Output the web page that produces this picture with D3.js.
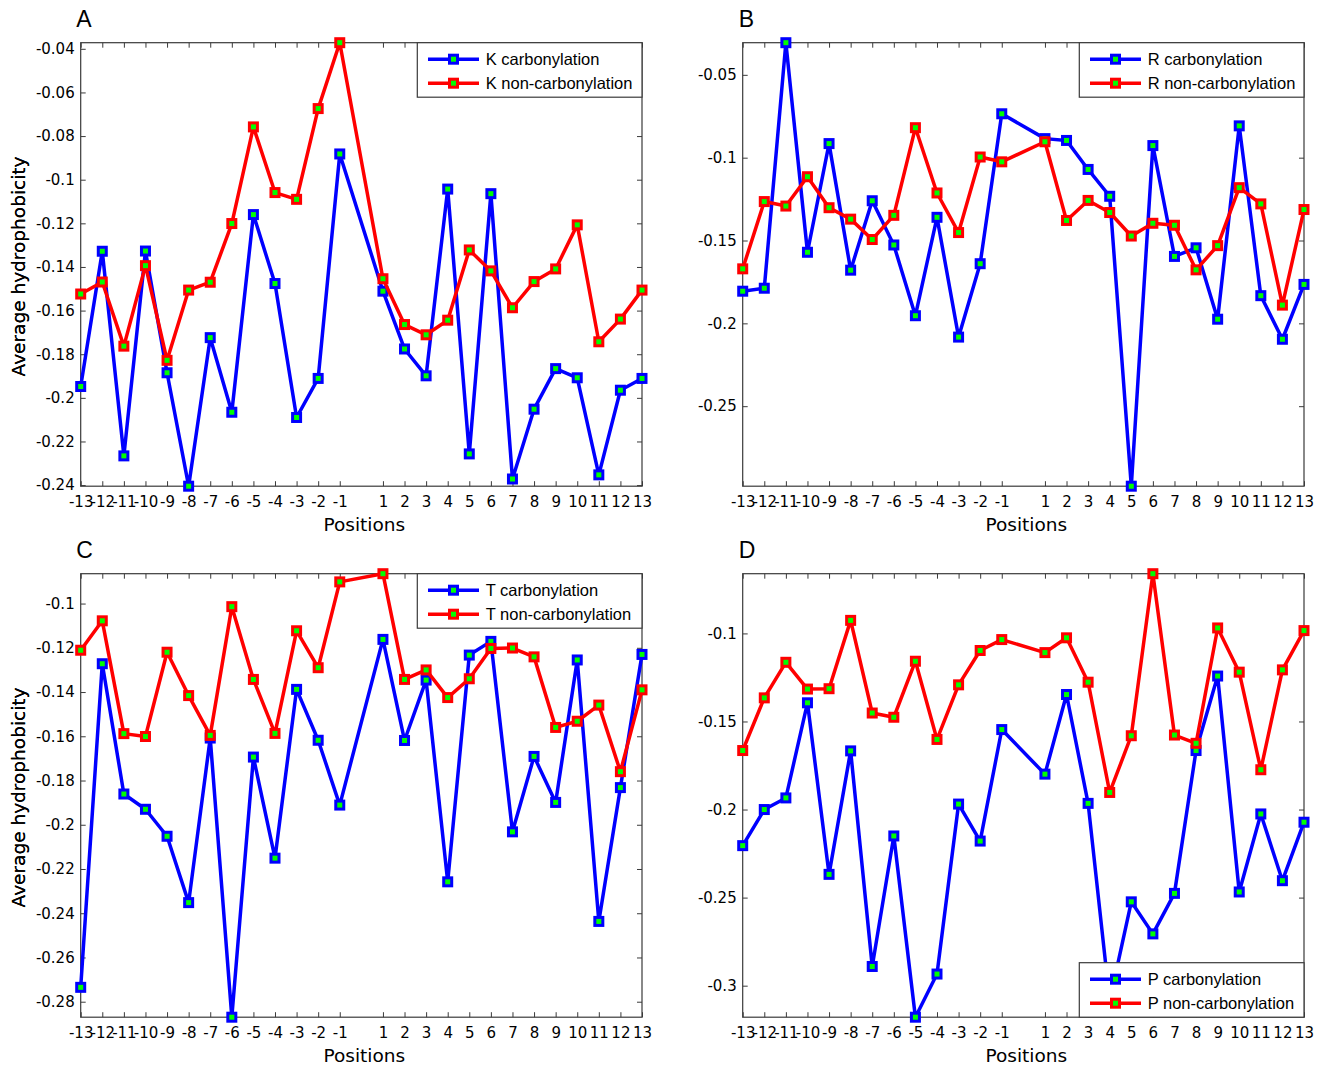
<!DOCTYPE html>
<html>
<head>
<meta charset="utf-8">
<script src="https://cdn.jsdelivr.net/npm/d3@7"></script>
<style>
  html, body { margin: 0; padding: 0; background: #fff; }
  svg { display: block; }
</style>
</head>
<body>
<svg id="chart" width="1325" height="1067"></svg>
<script>
// ---------- DATA ----------
const positions = [-13,-12,-11,-10,-9,-8,-7,-6,-5,-4,-3,-2,-1,1,2,3,4,5,6,7,8,9,10,11,12,13];

const kCarb = [-0.1948,-0.1328,-0.2266,-0.1327,-0.1885,-0.2405,-0.1724,-0.2066,-0.1160,-0.1476,-0.2090,-0.1911,-0.0882,-0.1511,-0.1776,-0.1899,-0.1043,-0.2257,-0.1064,-0.2372,-0.2052,-0.1866,-0.1908,-0.2353,-0.1965,-0.1911];
const kNon  = [-0.1524,-0.1469,-0.1763,-0.1394,-0.1828,-0.1506,-0.1470,-0.1201,-0.0758,-0.1059,-0.1090,-0.0674,-0.0372,-0.1454,-0.1664,-0.1711,-0.1644,-0.1322,-0.1418,-0.1587,-0.1467,-0.1409,-0.1207,-0.1743,-0.1639,-0.1506];

const rCarb = [-0.1806,-0.1788,-0.0306,-0.1571,-0.0915,-0.1679,-0.1260,-0.1527,-0.1954,-0.1360,-0.2083,-0.1640,-0.0735,-0.0885,-0.0896,-0.1071,-0.1233,-0.2983,-0.0927,-0.1596,-0.1544,-0.1975,-0.0808,-0.1833,-0.2096,-0.1765];
const rNon  = [-0.1671,-0.1265,-0.1292,-0.1115,-0.1302,-0.1371,-0.1494,-0.1348,-0.0819,-0.1213,-0.1452,-0.0996,-0.1025,-0.0904,-0.1379,-0.1258,-0.1331,-0.1473,-0.1396,-0.1408,-0.1677,-0.1531,-0.1181,-0.1279,-0.1890,-0.1313];

const tCarb = [-0.2735,-0.1272,-0.1861,-0.1930,-0.2052,-0.2352,-0.1608,-0.2870,-0.1694,-0.2151,-0.1388,-0.1618,-0.1911,-0.1162,-0.1619,-0.1346,-0.2258,-0.1233,-0.1171,-0.2032,-0.1691,-0.1899,-0.1255,-0.2437,-0.1832,-0.1230];
const tNon  = [-0.1211,-0.1078,-0.1588,-0.1601,-0.1220,-0.1416,-0.1596,-0.1014,-0.1343,-0.1587,-0.1123,-0.1290,-0.0902,-0.0865,-0.1343,-0.1300,-0.1425,-0.1340,-0.1203,-0.1201,-0.1241,-0.1560,-0.1532,-0.1459,-0.1760,-0.1390];

const pCarb = [-0.2205,-0.2000,-0.1934,-0.1394,-0.2368,-0.1667,-0.2891,-0.2150,-0.3179,-0.2934,-0.1969,-0.2179,-0.1546,-0.1799,-0.1347,-0.1965,-0.3086,-0.2524,-0.2706,-0.2476,-0.1665,-0.1242,-0.2468,-0.2025,-0.2404,-0.2072];
const pNon  = [-0.1665,-0.1366,-0.1164,-0.1316,-0.1314,-0.0926,-0.1452,-0.1476,-0.1158,-0.1602,-0.1292,-0.1097,-0.1035,-0.1109,-0.1025,-0.1277,-0.1903,-0.1581,-0.0661,-0.1577,-0.1624,-0.0969,-0.1220,-0.1774,-0.1207,-0.0984];

const yTicksA = [-0.24,-0.22,-0.2,-0.18,-0.16,-0.14,-0.12,-0.1,-0.08,-0.06,-0.04];
const yTicksB = [-0.25,-0.2,-0.15,-0.1,-0.05];
const yTicksC = [-0.28,-0.26,-0.24,-0.22,-0.2,-0.18,-0.16,-0.14,-0.12,-0.1];
const yTicksD = [-0.3,-0.25,-0.2,-0.15,-0.1];

const panelLetters = ["A","B","C","D"];
const residues = ["K","R","T","P"];
const xLabel = "Positions";
const yLabel = "Average hydrophobicity";

// ---------- LAYOUT ----------
const svg = d3.select("#chart");
const colLeft = [80.7, 742.7];
const rowTop = [42.7, 573.7];
const W = 561.3, H = 443.5;
const BLUE = "#0000ff", RED = "#ff0000", GREEN = "#00ff00", AXC = "#3a3a3a";
const TICKFONT = "'DejaVu Sans', sans-serif";
const LEGFONT = "'Liberation Sans', Arial, sans-serif";
const MS = 8, MSW = 3; // marker size, marker edge width

const panels = [
  {carb: kCarb, non: kNon, ticks: yTicksA, legend: "top"},
  {carb: rCarb, non: rNon, ticks: yTicksB, legend: "top"},
  {carb: tCarb, non: tNon, ticks: yTicksC, legend: "top"},
  {carb: pCarb, non: pNon, ticks: yTicksD, legend: "bottom"}
];

const fmt = v => String(+v.toFixed(2));

panels.forEach((p, i) => {
  const ox = colLeft[i % 2], oy = rowTop[Math.floor(i / 2)];
  const g = svg.append("g").attr("transform", `translate(${ox},${oy})`);

  const x = d3.scaleLinear().domain([-13, 13]).range([0, W]);
  const y = d3.scaleLinear().domain(d3.extent(p.carb.concat(p.non))).range([H, 0]);

  // axes (ticks inward on all four sides)
  const styleAxis = sel => {
    sel.select(".domain").remove();
    sel.selectAll(".tick line").attr("stroke", AXC).attr("stroke-width", 1);
    sel.selectAll("text").attr("fill", "#000").attr("font-family", TICKFONT).attr("font-size", 15);
  };
  g.append("g").attr("transform", `translate(0,${H})`)
    .call(d3.axisBottom(x).tickValues(positions).tickFormat(d => String(d)).tickSizeInner(-5).tickSizeOuter(0).tickPadding(10))
    .call(styleAxis);
  g.append("g")
    .call(d3.axisTop(x).tickValues(positions).tickFormat("").tickSizeInner(-5).tickSizeOuter(0))
    .call(styleAxis);
  g.append("g")
    .call(d3.axisLeft(y).tickValues(p.ticks).tickFormat(fmt).tickSizeInner(-5).tickSizeOuter(0).tickPadding(6))
    .call(styleAxis);
  g.append("g").attr("transform", `translate(${W},0)`)
    .call(d3.axisRight(y).tickValues(p.ticks).tickFormat("").tickSizeInner(-5).tickSizeOuter(0))
    .call(styleAxis);

  // box
  g.append("rect").attr("x", 0).attr("y", 0).attr("width", W).attr("height", H)
    .attr("fill", "none").attr("stroke", AXC).attr("stroke-width", 1.2);

  // series
  const series = [
    {vals: p.carb, color: BLUE, name: residues[i] + " carbonylation"},
    {vals: p.non, color: RED, name: residues[i] + " non-carbonylation"}
  ];
  const line = d3.line().x((d, j) => x(positions[j])).y(d => y(d));
  series.forEach(s => {
    g.append("path").datum(s.vals).attr("d", line)
      .attr("fill", "none").attr("stroke", s.color).attr("stroke-width", 3.5).attr("stroke-linejoin", "round");
    g.selectAll(null).data(s.vals).enter().append("rect")
      .attr("x", (d, j) => x(positions[j]) - MS / 2).attr("y", d => y(d) - MS / 2)
      .attr("width", MS).attr("height", MS)
      .attr("fill", GREEN).attr("stroke", s.color).attr("stroke-width", MSW);
  });

  // axis labels
  g.append("text").attr("x", W / 2 + 3).attr("y", H + 44.5)
    .attr("text-anchor", "middle").attr("font-family", TICKFONT).attr("font-size", 18.5)
    .attr("fill", "#000").text(xLabel);
  g.append("text").attr("transform", `translate(${25 - ox},${H / 2 + 2}) rotate(-90)`)
    .attr("text-anchor", "middle").attr("font-family", TICKFONT).attr("font-size", 18.5)
    .attr("fill", "#000").text(yLabel);

  // panel letter
  g.append("text").attr("x", (i % 2 ? -4 : -4.5)).attr("y", -15.5)
    .attr("font-family", LEGFONT).attr("font-size", 23).attr("fill", "#000")
    .attr("font-weight", i === 0 ? 300 : 400).text(panelLetters[i]);

  // legend
  const lw = 224.7, lh = 54.5;
  const lx = W - lw, ly = p.legend === "top" ? 0 : H - lh;
  const lg = g.append("g").attr("transform", `translate(${lx},${ly})`);
  lg.append("rect").attr("width", lw).attr("height", lh)
    .attr("fill", "#fff").attr("stroke", AXC).attr("stroke-width", 1.2);
  series.forEach((s, k) => {
    const ry = 16.5 + k * 24;
    lg.append("line").attr("x1", 10.7).attr("x2", 61.7).attr("y1", ry).attr("y2", ry)
      .attr("stroke", s.color).attr("stroke-width", 3.5);
    lg.append("rect").attr("x", 36.2 - MS / 2).attr("y", ry - MS / 2).attr("width", MS).attr("height", MS)
      .attr("fill", GREEN).attr("stroke", s.color).attr("stroke-width", MSW);
    lg.append("text").attr("x", 68.4).attr("y", ry).attr("dy", "0.36em")
      .attr("font-family", LEGFONT).attr("font-size", 16.5).attr("fill", "#000").text(s.name);
  });
});
</script>
</body>
</html>
